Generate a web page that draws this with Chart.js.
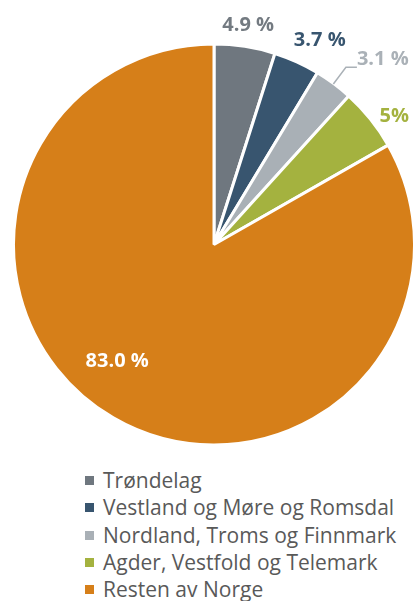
<!DOCTYPE html>
<html>
<head>
<meta charset="utf-8">
<script src="https://cdn.jsdelivr.net/npm/chart.js@4/dist/chart.umd.min.js"></script>
<style>
    html, body { margin: 0; padding: 0; background: #fff; }
    #wrap { position: relative; width: 416px; height: 601px; }
    #legend {
        position: absolute; left: 85px; top: 467px;
        font-family: "Open Sans", sans-serif; font-size: 21px; color: #595959;
        line-height: 27.3px;
    }
    #legend .item { display: flex; align-items: center; white-space: nowrap; }
    #legend .box { width: 9px; height: 9px; margin-right: 9px; flex: none; }
</style>
</head>
<body>
<div id="wrap">
    <canvas id="pieChart" width="416" height="456"></canvas>
    <div id="legend"></div>
</div>
<script>
// ------------------------------------------------------
// Data
// ------------------------------------------------------
const regions = [
    "Trøndelag",
    "Vestland og Møre og Romsdal",
    "Nordland, Troms og Finnmark",
    "Agder, Vestfold og Telemark",
    "Resten av Norge"
];
const shares = [4.9, 3.7, 3.1, 5.0, 83.0];
const shareLabels = ["4.9 %", "3.7 %", "3.1 %", "5%", "83.0 %"];
const sliceColors = ["#6f777f", "#38556f", "#a9b0b6", "#a4b23f", "#d67f19"];
const labelColors = ["#737a81", "#38556f", "#aab1b7", "#a4b23f", "#ffffff"];

// ------------------------------------------------------
// Data labels (outside, one with a leader line)
// ------------------------------------------------------
const sliceLabels = {
    id: "sliceLabels",
    afterDatasetsDraw(chart, args, opts) {
        const ctx = chart.ctx;
        const arcs = chart.getDatasetMeta(0).data;
        ctx.save();
        ctx.font = "bold 20px 'Open Sans', sans-serif";
        arcs.forEach((arc, i) => {
            const place = opts.place[i];
            const mid = (arc.startAngle + arc.endAngle) / 2;
            const ang = mid + place.nudge * Math.PI / 180;
            const r = 200;
            ctx.fillStyle = labelColors[i];
            if (place.leader) {
                const x0 = arc.x + Math.cos(mid) * r;
                const y0 = arc.y + Math.sin(mid) * r;
                const x1 = arc.x + Math.cos(mid) * r * 1.105;
                const y1 = arc.y + Math.sin(mid) * r * 1.105;
                const x2 = x1 + 11;
                ctx.strokeStyle = labelColors[i];
                ctx.lineWidth = 1.5;
                ctx.beginPath();
                ctx.moveTo(x0, y0);
                ctx.lineTo(x1, y1);
                ctx.lineTo(x2, y1);
                ctx.stroke();
                ctx.textAlign = "left";
                ctx.textBaseline = "middle";
                ctx.fillText(shareLabels[i], x2, y1 - 8);
            } else {
                ctx.textAlign = "center";
                ctx.textBaseline = "middle";
                const x = arc.x + Math.cos(ang) * r * place.r;
                const y = arc.y + Math.sin(ang) * r * place.r;
                ctx.fillText(shareLabels[i], x, y);
            }
        });
        ctx.restore();
    }
};

// ------------------------------------------------------
// Pie chart
// ------------------------------------------------------
new Chart(document.getElementById("pieChart"), {
    type: "pie",
    data: {
        labels: regions,
        datasets: [{
            data: shares,
            backgroundColor: sliceColors,
            borderColor: "#ffffff",
            borderWidth: 3
        }]
    },
    options: {
        responsive: false,
        animation: false,
        layout: {
            padding: { left: 12, right: 0, top: 42.5, bottom: 9.5 }
        },
        plugins: {
            legend: { display: false },
            tooltip: { enabled: false },
            sliceLabels: {
                place: [
                    { r: 1.11, nudge: 0 },
                    { r: 1.15, nudge: 3 },
                    { leader: true },
                    { r: 1.105, nudge: 3.4 },
                    { r: 0.757, nudge: 9.6 }
                ]
            }
        }
    },
    plugins: [sliceLabels]
});

// ------------------------------------------------------
// HTML legend, one entry per row
// ------------------------------------------------------
const legendEl = document.getElementById("legend");
regions.forEach((name, i) => {
    const row = document.createElement("div");
    row.className = "item";
    const box = document.createElement("span");
    box.className = "box";
    box.style.background = sliceColors[i];
    const text = document.createElement("span");
    text.textContent = name;
    row.appendChild(box);
    row.appendChild(text);
    legendEl.appendChild(row);
});
</script>
</body>
</html>
